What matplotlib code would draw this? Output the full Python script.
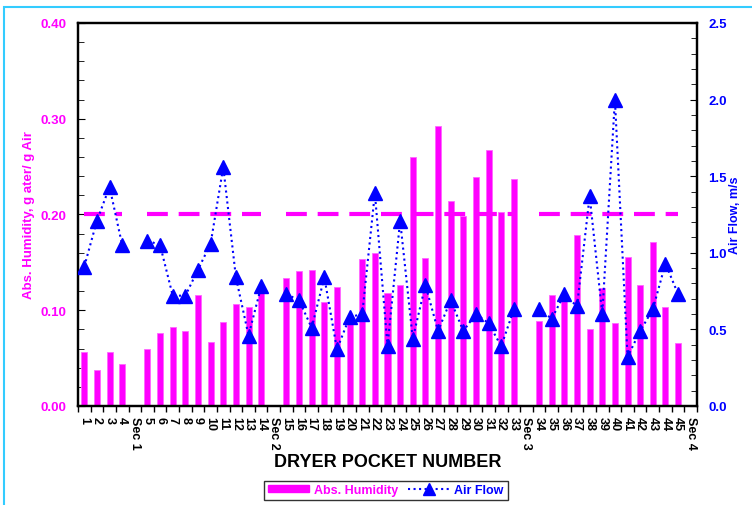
import numpy as np
import matplotlib
matplotlib.use("Agg")
import matplotlib.pyplot as plt
from matplotlib.patches import Rectangle, Patch
from matplotlib.lines import Line2D

plt.rcParams['font.family'] = ['Liberation Sans', 'DejaVu Sans']
plt.rcParams['font.weight'] = 'bold'

# categories along the dryer, section breaks in between
labels = (["1", "2", "3", "4", "Sec 1"]
          + [str(i) for i in range(5, 15)] + ["Sec 2"]
          + [str(i) for i in range(15, 34)] + ["Sec 3"]
          + [str(i) for i in range(34, 46)] + ["Sec 4"])

nan = np.nan
# absolute humidity, g water / g air (left axis)
humidity = [0.056, 0.038, 0.056, 0.044, nan,
            0.059, 0.076, 0.083, 0.078, 0.116, 0.067, 0.088, 0.107, 0.103, 0.119, nan,
            0.134, 0.141, 0.142, 0.109, 0.124, 0.087, 0.154, 0.160, 0.118, 0.126,
            0.260, 0.155, 0.292, 0.214, 0.198, 0.239, 0.267, 0.203, 0.237, nan,
            0.089, 0.116, 0.110, 0.179, 0.080, 0.123, 0.087, 0.156, 0.126, 0.171,
            0.103, 0.066, nan]

# air flow, m/s (right axis)
airflow = [0.91, 1.21, 1.43, 1.05, nan,
           1.08, 1.05, 0.72, 0.72, 0.89, 1.06, 1.56, 0.84, 0.46, 0.78, nan,
           0.73, 0.69, 0.51, 0.84, 0.37, 0.58, 0.60, 1.39, 0.39, 1.21,
           0.44, 0.79, 0.49, 0.69, 0.49, 0.60, 0.54, 0.39, 0.63, nan,
           0.63, 0.57, 0.73, 0.65, 1.37, 0.60, 2.00, 0.32, 0.49, 0.63,
           0.93, 0.73, nan]

# 0.20 reference level in each section
target = [0.20 if not lab.startswith("Sec") else nan for lab in labels]

x = np.arange(len(labels))

fig = plt.figure(figsize=(7.52, 5.06), dpi=100)
ax = fig.add_axes([0.1037, 0.1957, 0.8232, 0.7569])
ax2 = ax.twinx()

ax.bar(x, humidity, width=0.48, color='#FF00FF', edgecolor='#FF66FF', linewidth=0.6, zorder=2)
ax.plot(x, target, color='#FF00FF', lw=3, dashes=(5, 2.6), zorder=3)
ax2.plot(x, airflow, color='#0000FF', ls=':', lw=1.5, marker='^', ms=9.5,
         markeredgecolor='#0000FF', zorder=4)

ax.set_xlim(-0.5, len(labels) - 0.5)
ax.set_ylim(0, 0.40)
ax2.set_ylim(0, 2.5)

ax.set_yticks(np.arange(0, 0.41, 0.1))
ax.set_yticklabels(["%.2f" % v for v in np.arange(0, 0.41, 0.1)])
ax.set_yticks(np.arange(0, 0.401, 0.02), minor=True)
ax2.set_yticks(np.arange(0, 2.51, 0.5))
ax2.set_yticklabels(["%.1f" % v for v in np.arange(0, 2.51, 0.5)])
ax2.set_yticks(np.arange(0, 2.501, 0.1), minor=True)

ax.set_xticks(x)
ax.set_xticklabels(labels, rotation=-90, fontsize=9, fontweight='bold')
ax.set_xticks(np.arange(-0.5, len(labels), 1), minor=True)
ax.tick_params(axis='x', which='major', length=0, pad=7)
ax.tick_params(axis='x', which='minor', length=4, direction='out', width=1)

ax.tick_params(axis='y', which='both', direction='in', colors='black', labelcolor='#FF00FF',
               labelsize=9.5, pad=8)
ax.tick_params(axis='y', which='major', length=5)
ax.tick_params(axis='y', which='minor', length=4)
ax2.tick_params(axis='y', which='both', direction='in', colors='black', labelcolor='#0000FF',
                labelsize=9.5, pad=8)
ax2.tick_params(axis='y', which='major', length=5)
ax2.tick_params(axis='y', which='minor', length=4)

for a in (ax, ax2):
    for s in a.spines.values():
        s.set_linewidth(1.6)

ax.set_ylabel("Abs. Humidity, g ater/ g Air", color='#FF00FF', fontsize=9.5, fontweight='bold', labelpad=4)
ax2.set_ylabel("Air Flow, m/s", color='#0000FF', fontsize=9, fontweight='bold', labelpad=2)
ax.set_xlabel("DRYER POCKET NUMBER", fontsize=13, fontweight='bold', labelpad=3)

handles = [Patch(facecolor='#FF00FF', edgecolor='#FF00FF'),
           Line2D([], [], color='#0000FF', ls=':', lw=1.5, marker='^', ms=8)]
leg = fig.legend(handles, ["Abs. Humidity", "Air Flow"], loc='center', bbox_to_anchor=(0.513, 0.029),
                 ncol=2, frameon=True, fancybox=False, edgecolor='black', fontsize=9,
                 handlelength=3.3, handleheight=0.5, columnspacing=0.8, handletextpad=0.4,
                 borderpad=0.3, borderaxespad=0)
leg.get_frame().set_linewidth(1.0)
leg.get_texts()[0].set_color('#FF00FF')
leg.get_texts()[1].set_color('#0000FF')

# light blue frame round the figure
fig.patches.append(Rectangle((4 / 752, -0.1), 1.2, (506 - 8) / 506 + 0.1,
                             transform=fig.transFigure, fill=False,
                             edgecolor='#33CCFF', linewidth=1.5))

fig.savefig("out.png", dpi=100)
